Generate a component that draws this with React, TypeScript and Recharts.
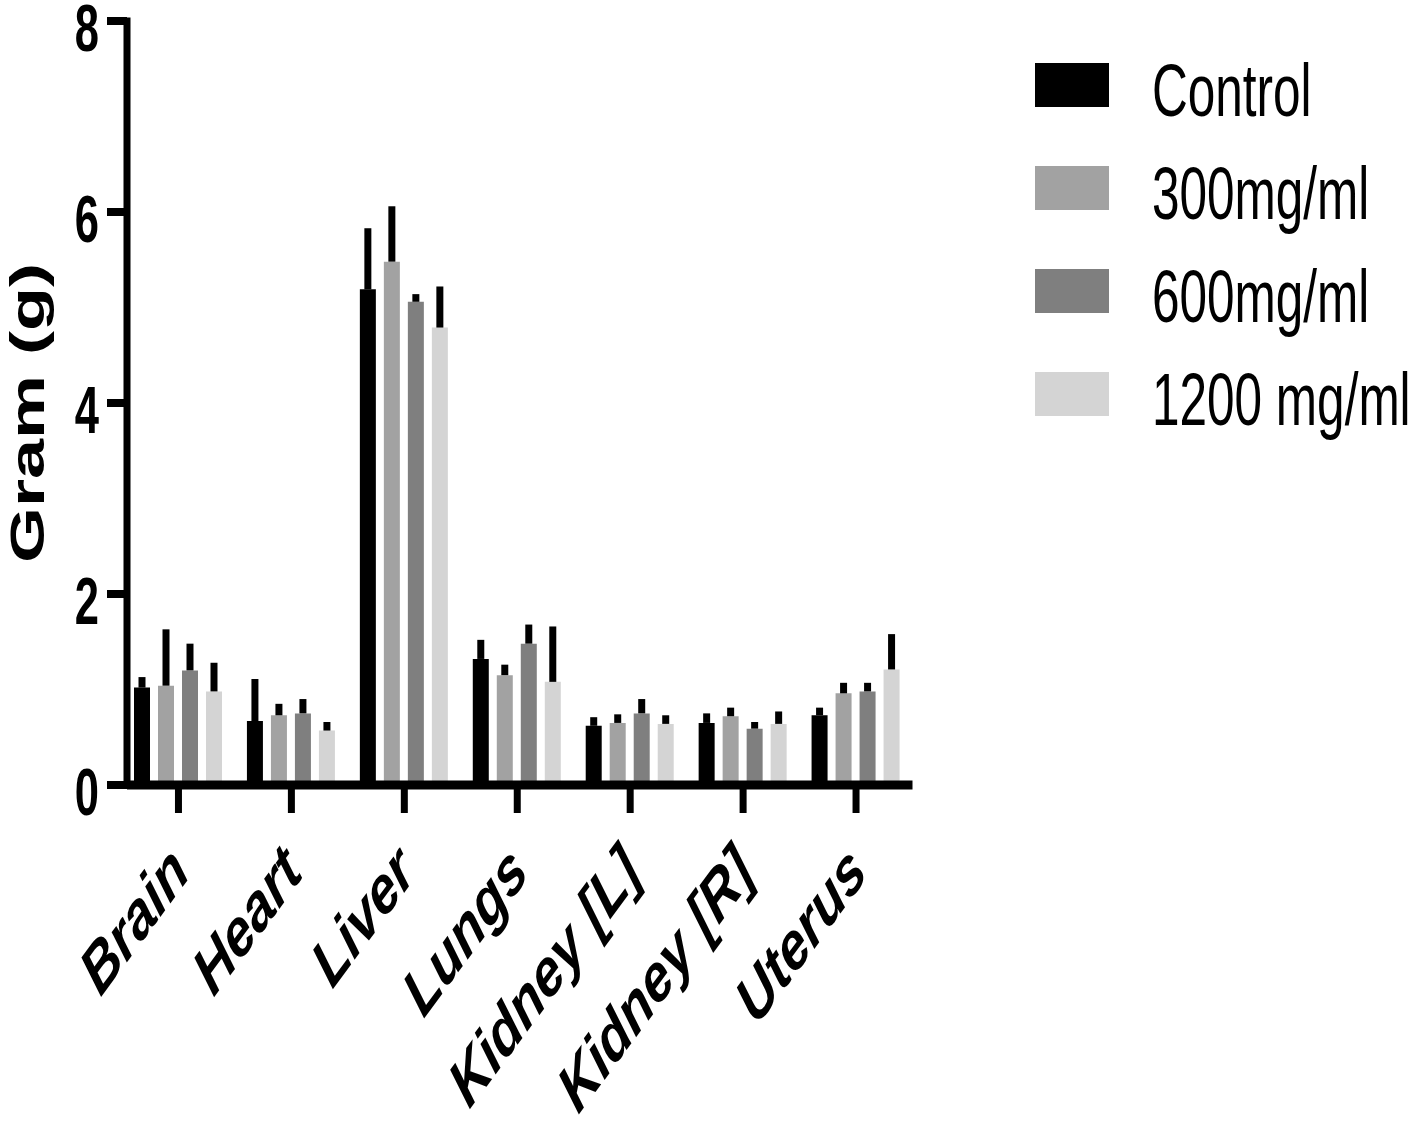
import { BarChart, Bar, XAxis, YAxis, ErrorBar } from 'recharts';

const categories = ['Brain', 'Heart', 'Liver', 'Lungs', 'Kidney [L]', 'Kidney [R]', 'Uterus'];

const control = [1.02, 0.67, 5.19, 1.32, 0.62, 0.65, 0.73];
const controlSD = [0.11, 0.44, 0.64, 0.2, 0.09, 0.1, 0.08];
const dose300 = [1.04, 0.73, 5.48, 1.15, 0.65, 0.72, 0.96];
const dose300SD = [0.59, 0.12, 0.58, 0.11, 0.09, 0.09, 0.11];
const dose600 = [1.2, 0.75, 5.06, 1.48, 0.75, 0.59, 0.98];
const dose600SD = [0.28, 0.15, 0.08, 0.2, 0.15, 0.07, 0.09];
const dose1200 = [0.98, 0.57, 4.79, 1.08, 0.64, 0.64, 1.21];
const dose1200SD = [0.3, 0.09, 0.43, 0.58, 0.09, 0.13, 0.37];

const seriesNames = ['Control', '300mg/ml', '600mg/ml', '1200 mg/ml'];
const seriesColors = ['#000000', '#a2a2a2', '#7f7f7f', '#d4d4d4'];
const yTicks = [0, 2, 4, 6, 8];

const seriesValues = [control, dose300, dose600, dose1200];
const seriesSD = [controlSD, dose300SD, dose600SD, dose1200SD];

const data = categories.map((name, i) => {
  const row: Record<string, any> = { name };
  seriesValues.forEach((vals, s) => {
    row[`s${s}`] = vals[i];
    row[`e${s}`] = [0, seriesSD[s][i]];
  });
  return row;
});

const FONT = '"Liberation Sans", Arial, Helvetica, sans-serif';

function XTick({ x, y, payload }: any) {
  return (
    <g transform={`translate(${x + 13},${y + 60}) scale(0.74,1) rotate(-45)`}>
      <text
        textAnchor="end"
        fontSize={68}
        fontWeight="bold"
        fontStyle="italic"
        fontFamily={FONT}
        fill="#000"
      >
        {payload.value}
      </text>
    </g>
  );
}

function YTick({ x, y, payload }: any) {
  return (
    <g transform={`translate(${x - 6},${y + 7}) scale(0.65,1)`}>
      <text
        textAnchor="end"
        dominantBaseline="central"
        fontSize={67}
        fontWeight="bold"
        fontFamily={FONT}
        fill="#000"
      >
        {payload.value}
      </text>
    </g>
  );
}

function YLabel({ viewBox }: any) {
  const vb = viewBox || { x: 0, y: 21, width: 127, height: 764 };
  const cx = vb.x + 27;
  const cy = vb.y + vb.height / 2 + 10;
  return (
    <g transform={`translate(${cx},${cy}) scale(0.68,1) rotate(-90)`}>
      <text
        textAnchor="middle"
        dominantBaseline="central"
        fontSize={72}
        fontWeight="bold"
        fontFamily={FONT}
        fill="#000"
      >
        Gram (g)
      </text>
    </g>
  );
}

export default function App() {
  return (
    <div style={{ position: 'relative', width: 1418, height: 1123, background: '#fff' }}>
      <style>{`body { margin: 0; }`}</style>
      <BarChart
        width={1418}
        height={1123}
        data={data}
        margin={{ top: 21, right: 505.5, left: 0, bottom: 38 }}
        barSize={16}
        barGap={8}
      >
        <XAxis
          dataKey="name"
          interval={0}
          height={300}
          padding={{ left: -5, right: 0 }}
          tickSize={28}
          tickLine={{ stroke: '#000', strokeWidth: 7 }}
          axisLine={{ stroke: '#000', strokeWidth: 9 }}
          tick={<XTick />}
        />
        <YAxis
          domain={[0, 8]}
          ticks={yTicks}
          width={127}
          tickSize={20}
          tickLine={{ stroke: '#000', strokeWidth: 8 }}
          axisLine={{ stroke: '#000', strokeWidth: 7, strokeLinecap: 'square' }}
          tick={<YTick />}
          label={<YLabel />}
        />
        {seriesNames.map((name, s) => (
          <Bar
            key={name}
            dataKey={`s${s}`}
            name={name}
            fill={seriesColors[s]}
            isAnimationActive={false}
          >
            <ErrorBar
              dataKey={`e${s}`}
              width={0}
              stroke="#000"
              strokeWidth={7}
              isAnimationActive={false}
            />
          </Bar>
        ))}
      </BarChart>

      {/* legend */}
      {seriesNames.map((name, s) => (
        <div key={name}>
          <div
            style={{
              position: 'absolute',
              left: 1035,
              top: 63 + s * 103,
              width: 74,
              height: 44,
              background: seriesColors[s],
            }}
          />
          <div
            style={{
              position: 'absolute',
              left: 1152,
              top: 63 + s * 103 - 10,
              fontFamily: FONT,
              fontSize: 75,
              lineHeight: '75px',
              whiteSpace: 'nowrap',
              transform: 'scaleX(0.66)',
              transformOrigin: 'left top',
              color: '#000',
            }}
          >
            {name}
          </div>
        </div>
      ))}
    </div>
  );
}
